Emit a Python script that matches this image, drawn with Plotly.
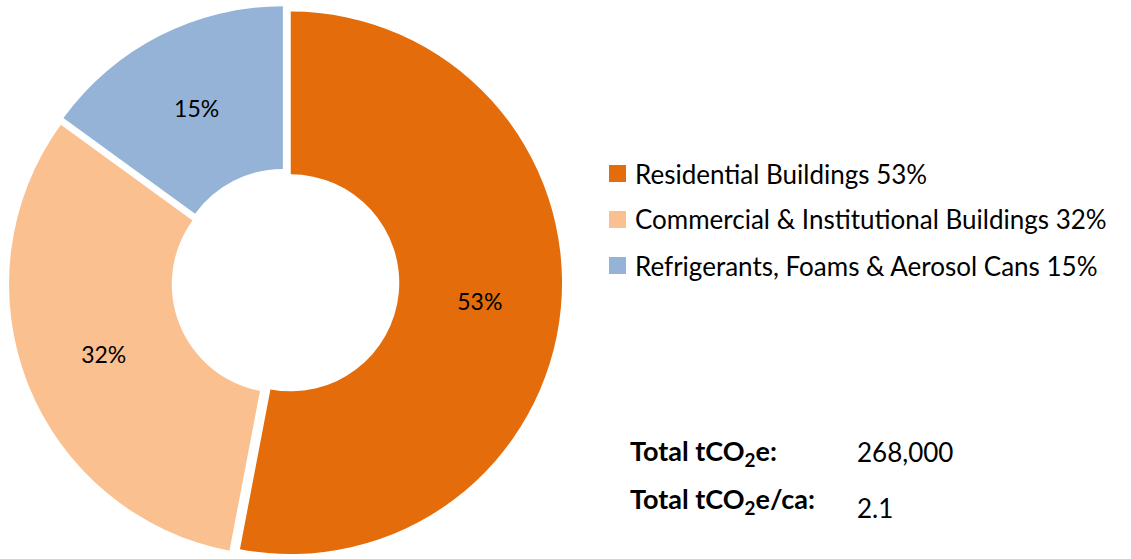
import plotly.graph_objects as go

# Emissions share by source (percent)
categories = ["Residential Buildings", "Commercial & Institutional Buildings",
              "Refrigerants, Foams & Aerosol Cans"]
shares = [53, 32, 15]
colors = ["#E46C0A", "#FAC090", "#95B3D7"]

total_label = "Total tCO<sub>2</sub>e:"
total_value = "268,000"
per_capita_label = "Total tCO<sub>2</sub>e/ca:"
per_capita_value = "2.1"

W, H = 1131, 559
FONT = "Lato"


def px_x(x):
    return x / W


def px_y(y):
    return 1 - y / H


fig = go.Figure()
fig.add_trace(go.Pie(
    labels=categories,
    values=shares,
    sort=False,
    direction="clockwise",
    rotation=0,
    hole=0.4,
    pull=[0.02, 0.02, 0.02],
    marker=dict(colors=colors, line=dict(color="white", width=0)),
    texttemplate="%{percent:.0%}",
    textposition="inside",
    insidetextorientation="horizontal",
    textfont=dict(family=FONT, size=23, color="#000000"),
    showlegend=False,
    hoverinfo="label+percent",
    domain=dict(x=[0.0073, 0.4973], y=[0.0, 0.99]),
))

# Legend: colour swatch plus label for each category
shapes = []
annotations = []
row_y = [173.5, 219.5, 265.5]
for name, share, color, y in zip(categories, shares, colors, row_y):
    shapes.append(dict(
        type="rect", xref="paper", yref="paper",
        x0=px_x(609), x1=px_x(626), y0=px_y(y + 8.5), y1=px_y(y - 8.5),
        fillcolor=color, line=dict(width=0),
    ))
    annotations.append(dict(
        xref="paper", yref="paper", x=px_x(633), y=px_y(y),
        xanchor="left", yanchor="middle", showarrow=False,
        text=f"{name} {share}%",
        font=dict(family=FONT, size=26, color="#000000"),
    ))

# Totals block
for label, value, y_lab, y_val in [
    (total_label, total_value, 452, 452),
    (per_capita_label, per_capita_value, 500, 508),
]:
    annotations.append(dict(
        xref="paper", yref="paper", x=px_x(628), y=px_y(y_lab),
        xanchor="left", yanchor="middle", showarrow=False,
        text=f"<b>{label}</b>",
        font=dict(family=FONT, size=27, color="#000000"),
    ))
    annotations.append(dict(
        xref="paper", yref="paper", x=px_x(855), y=px_y(y_val),
        xanchor="left", yanchor="middle", showarrow=False,
        text=value,
        font=dict(family=FONT, size=26, color="#000000"),
    ))

fig.update_layout(
    width=W, height=H,
    margin=dict(l=0, r=0, t=0, b=0),
    paper_bgcolor="white",
    plot_bgcolor="white",
    shapes=shapes,
    annotations=annotations,
)

fig.write_html("out.html")
